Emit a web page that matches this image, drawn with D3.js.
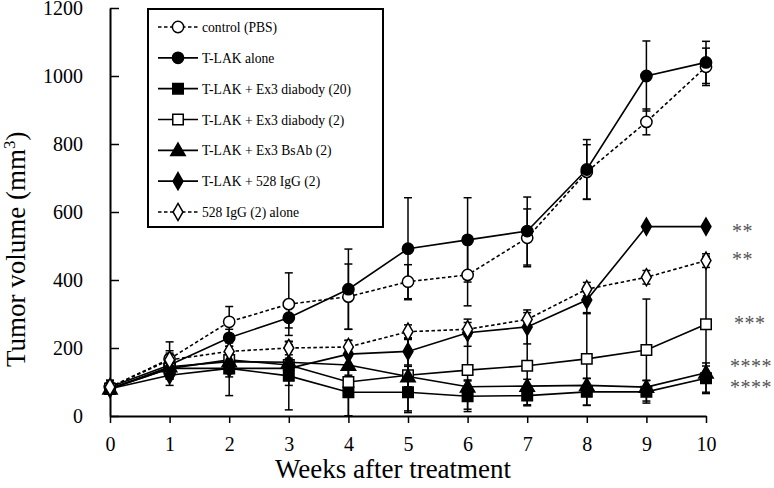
<!DOCTYPE html>
<html>
<head>
<meta charset="utf-8">
<script src="https://cdn.jsdelivr.net/npm/d3@7/dist/d3.min.js"></script>
<style>
  html, body { margin: 0; padding: 0; background: #fff; }
  svg, svg text { font-family: "Liberation Serif", "Times New Roman", Times, "DejaVu Serif", serif; }
</style>
</head>
<body>
<svg id="chart" width="774" height="488"></svg>
<script>
// ---- data ----
const weeks = [0, 1, 2, 3, 4, 5, 6, 7, 8, 9, 10];
const yTicks = [0, 200, 400, 600, 800, 1000, 1200];

const seriesNames = [
  "control (PBS)",
  "T-LAK alone",
  "T-LAK + Ex3 diabody (20)",
  "T-LAK + Ex3 diabody (2)",
  "T-LAK + Ex3 BsAb (2)",
  "T-LAK + 528 IgG (2)",
  "528 IgG (2) alone"
];

const controlPBS     = [85, 168, 277, 329, 351, 395, 415, 524, 718, 865, 1027];
const controlErr     = [20, 50, 45, 92, 96, 50, 91, 85, 80, 38, 55];
const tlakAlone      = [85, 150, 230, 289, 373, 492, 518, 544, 725, 1000, 1040];
const tlakErr        = [20, 42, 25, 30, 118, 150, 124, 100, 88, 103, 62];
const diabody20      = [80, 140, 140, 118, 70, 70, 58, 60, 71, 71, 111];
const diabody20Err   = [15, 30, 80, 100, 70, 60, 45, 30, 40, 33, 45];
const diabody2       = [80, 140, 165, 150, 100, 120, 135, 148, 168, 194, 270];
const diabody2Err    = [15, 20, 40, 60, 100, 105, 115, 115, 136, 150, 200];
const bsab2          = [80, 145, 160, 158, 150, 116, 86, 88, 90, 85, 127];
const bsab2Err       = [15, 20, 30, 40, 30, 30, 20, 20, 20, 20, 20];
const igg528TLAK     = [80, 120, 140, 140, 182, 190, 245, 262, 341, 557, 557];
const igg528TLAKErr  = [15, 30, 25, 30, 40, 40, 40, 50, 40, 0, 0];
const igg528Alone    = [85, 165, 190, 200, 203, 248, 255, 284, 373, 408, 457];
const igg528AloneErr = [15, 20, 25, 20, 20, 20, 20, 20, 20, 20, 20];

const sigLabels = ["**", "**", "***", "****", "****"];
const sigValues = [557, 475, 285, 158, 97];

// ---- setup ----
const FONT = '"Liberation Serif", "Times New Roman", Times, "DejaVu Serif", serif';
const series = [
  { name: seriesNames[0], values: controlPBS,  err: controlErr,     shape: "circle",   filled: false, dashed: true },
  { name: seriesNames[1], values: tlakAlone,   err: tlakErr,        shape: "circle",   filled: true,  dashed: false },
  { name: seriesNames[2], values: diabody20,   err: diabody20Err,   shape: "square",   filled: true,  dashed: false },
  { name: seriesNames[3], values: diabody2,    err: diabody2Err,    shape: "square",   filled: false, dashed: false },
  { name: seriesNames[4], values: bsab2,       err: bsab2Err,       shape: "triangle", filled: true,  dashed: false },
  { name: seriesNames[5], values: igg528TLAK,  err: igg528TLAKErr,  shape: "diamond",  filled: true,  dashed: false },
  { name: seriesNames[6], values: igg528Alone, err: igg528AloneErr, shape: "diamond",  filled: false, dashed: true }
];

const svg = d3.select("#chart");
const x = d3.scaleLinear().domain([0, 10]).range([110, 706]);
const y = d3.scaleLinear().domain([0, 1200]).range([416, 8]);

const symbolGen = {
  circle:   d3.symbol().type(d3.symbolCircle).size(100),
  square:   d3.symbol().type(d3.symbolSquare).size(110),
  triangle: d3.symbol().type(d3.symbolTriangle).size(90),
  diamond:  d3.symbol().type(d3.symbolDiamond).size(85)
};

// ---- axes ----
const yAxis = d3.axisLeft(y).tickValues(yTicks).tickSizeInner(-9).tickSizeOuter(0).tickPadding(27).tickFormat(d3.format("d"));
const gy = svg.append("g").attr("transform", `translate(${x(0)},0)`).call(yAxis).attr("font-family", FONT);
gy.select(".domain").attr("stroke", "#000").attr("stroke-width", 2);
gy.selectAll(".tick line").attr("stroke", "#000").attr("stroke-width", 1.5);
gy.selectAll(".tick text").attr("font-size", 20).attr("fill", "#000");

const xAxis = d3.axisBottom(x).tickValues(weeks).tickSizeInner(7).tickSizeOuter(0).tickPadding(14).tickFormat(d3.format("d"));
const gx = svg.append("g").attr("transform", `translate(0,${y(0)})`).call(xAxis).attr("font-family", FONT);
gx.select(".domain").attr("stroke", "#000").attr("stroke-width", 2);
gx.selectAll(".tick line").attr("stroke", "#000").attr("stroke-width", 1.5);
gx.selectAll(".tick text").attr("font-size", 20).attr("fill", "#000");

// axis titles
svg.append("text")
  .attr("x", 393).attr("y", 478)
  .attr("text-anchor", "middle")
  .attr("font-family", FONT)
  .attr("font-size", 27)
  .text("Weeks after treatment");

const yl = svg.append("text")
  .attr("transform", "translate(25,367) rotate(-90)")
  .attr("text-anchor", "start")
  .attr("font-family", FONT)
  .attr("font-size", 27);
yl.append("tspan").text("Tumor volume (mm");
yl.append("tspan").attr("font-size", 17).attr("dy", -10).text("3");
yl.append("tspan").attr("dy", 10).text(")");

// ---- lines & error bars ----
const line = d3.line().x((d, i) => x(weeks[i])).y(d => y(d));
const capW = 4;

series.forEach(s => {
  const g = svg.append("g");
  weeks.forEach((w, i) => {
    const e = s.err[i];
    if (!e) return;
    const top = Math.min(s.values[i] + e, 1200), bot = Math.max(s.values[i] - e, 0);
    g.append("line").attr("x1", x(w)).attr("x2", x(w)).attr("y1", y(top)).attr("y2", y(bot))
      .attr("stroke", "#000").attr("stroke-width", 1.5);
    [top, bot].forEach(v => {
      g.append("line").attr("x1", x(w) - capW).attr("x2", x(w) + capW).attr("y1", y(v)).attr("y2", y(v))
        .attr("stroke", "#000").attr("stroke-width", 1.5);
    });
  });
});

series.forEach(s => {
  svg.append("path").datum(s.values)
    .attr("d", line)
    .attr("fill", "none")
    .attr("stroke", "#000")
    .attr("stroke-width", 1.6)
    .attr("stroke-dasharray", s.dashed ? "3.5,2.5" : null);
});

// ---- markers ----
series.forEach(s => {
  svg.append("g").selectAll("path").data(s.values).join("path")
    .attr("d", symbolGen[s.shape])
    .attr("transform", (d, i) => `translate(${x(weeks[i])},${y(d) + (s.shape === "triangle" ? 1 : 0)})`)
    .attr("fill", s.filled ? "#000" : "#fff")
    .attr("stroke", "#000")
    .attr("stroke-width", 1.5);
});

// ---- significance labels ----
svg.append("g").selectAll("text").data(sigLabels).join("text")
  .attr("x", (d, i) => i === 2 ? 734 : (d.length === 4 ? 730 : 732))
  .attr("y", (d, i) => y(sigValues[i]) + 11)
  .attr("font-family", FONT)
  .attr("font-size", 20)
  .attr("letter-spacing", 0.5)
  .attr("fill", "#555")
  .text(d => d);

// ---- legend ----
const lg = svg.append("g");
lg.append("rect").attr("x", 148).attr("y", 9).attr("width", 235).attr("height", 218)
  .attr("fill", "#fff").attr("stroke", "#000").attr("stroke-width", 2);
const legendY = d3.scalePoint().domain(seriesNames).range([27, 212]);
series.forEach(s => {
  const ly = legendY(s.name);
  lg.append("line").attr("x1", 158).attr("x2", 198).attr("y1", ly).attr("y2", ly)
    .attr("stroke", "#000").attr("stroke-width", 1.6)
    .attr("stroke-dasharray", s.dashed ? "3.5,2.5" : null);
  lg.append("path").attr("d", symbolGen[s.shape])
    .attr("transform", `translate(178,${ly + (s.shape === "triangle" ? 1 : 0)})`)
    .attr("fill", s.filled ? "#000" : "#fff")
    .attr("stroke", "#000").attr("stroke-width", 1.5);
  lg.append("text").attr("x", 202).attr("y", ly + 5)
    .attr("font-family", FONT)
    .attr("font-size", 13.6).text(s.name);
});
</script>
</body>
</html>
